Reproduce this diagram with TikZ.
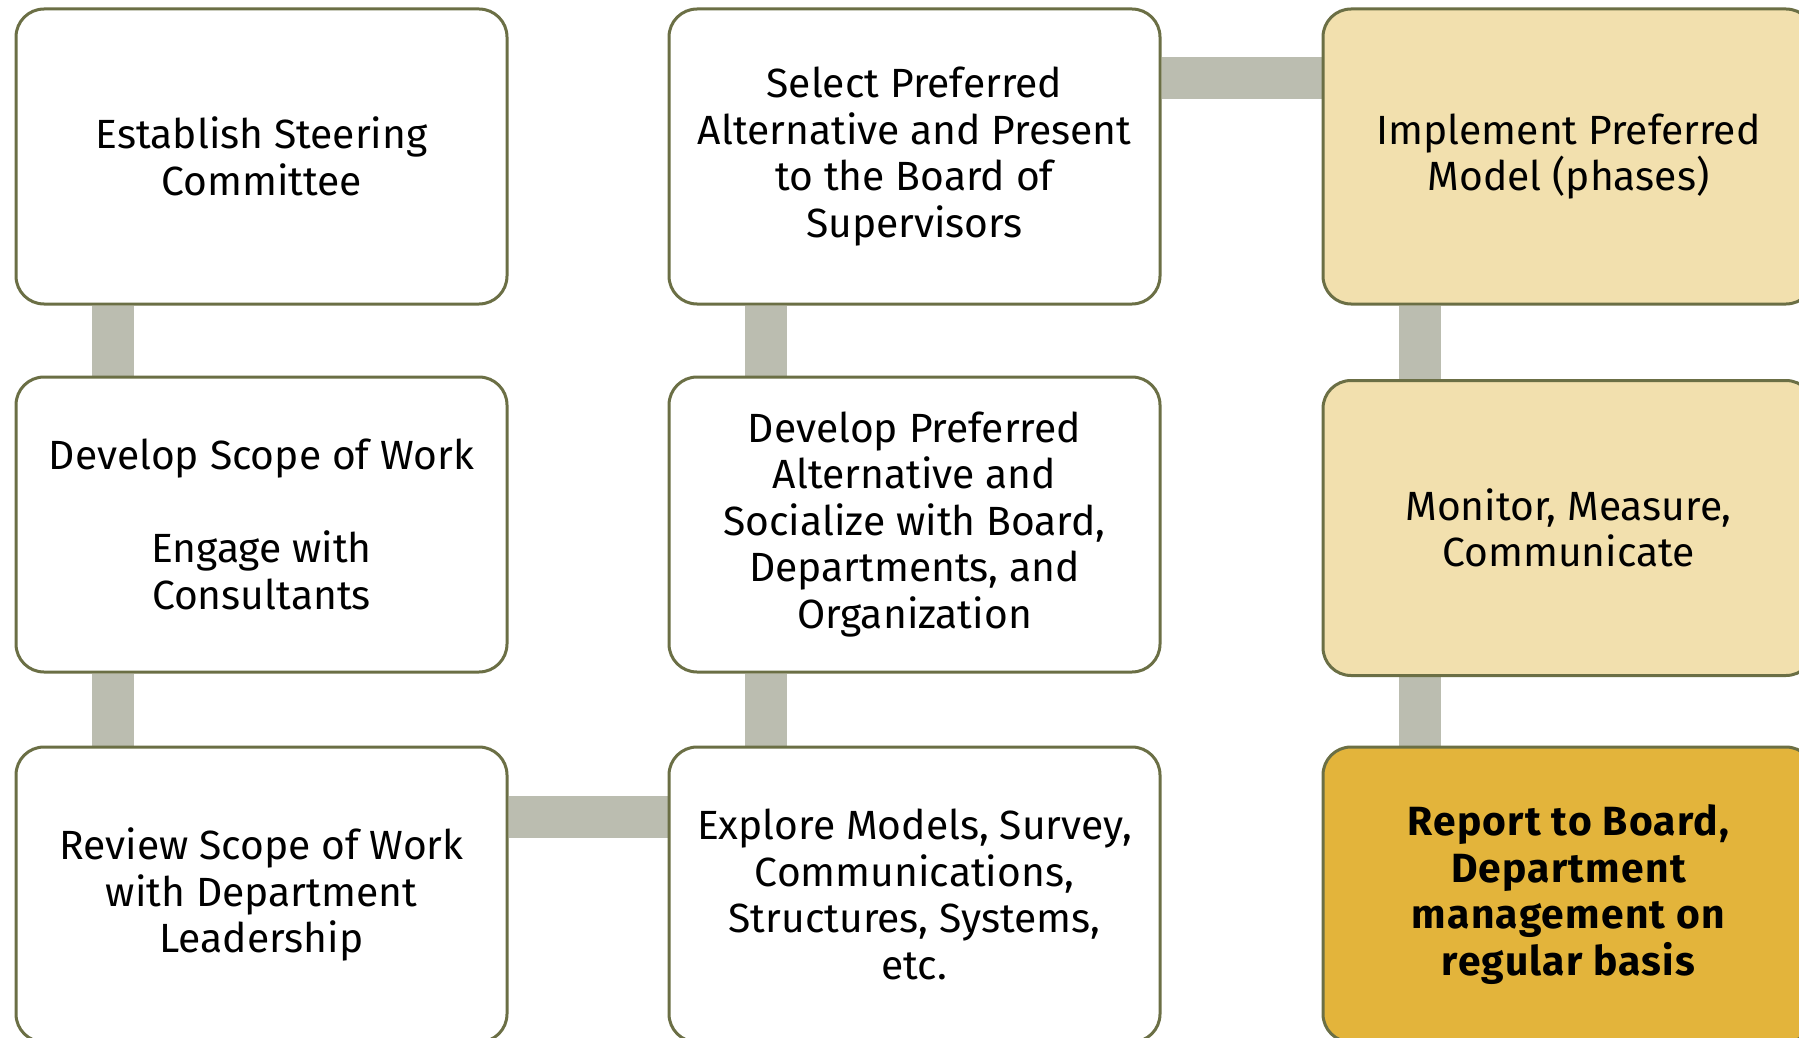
\documentclass[tikz,border=0pt]{standalone}
\usepackage{fontspec}
\setmainfont{Fira Sans}
\usetikzlibrary{backgrounds}
\definecolor{boxline}{HTML}{6B6F45}
\definecolor{linkgray}{HTML}{BBBDB0}
\definecolor{lightgold}{HTML}{F2E0AE}
\definecolor{darkgold}{HTML}{E3B43B}
\tikzset{
  box/.style={draw=boxline, line width=1.5pt, rounded corners=14pt, fill=white,
    minimum width=245.5pt, minimum height=147.5pt, align=center,
    font=\fontsize{20.4}{23.25}\selectfont},
  lightbox/.style={box, fill=lightgold},
  darkbox/.style={box, fill=darkgold,
    font=\fontsize{20.4}{23.25}\selectfont\bfseries\addfontfeature{LetterSpace=3}},
  link/.style={draw=linkgray, line width=21pt}
}
\begin{document}
\begin{tikzpicture}[x=0.5pt, y=-0.5pt]
\clip (0,0) rectangle (1799,1038);
% first column
\node [box] (steering) at (261.5,156.5) {Establish Steering\\Committee};
\node [box] (scope) at (261.5,524.5) {Develop Scope of Work\\\mbox{}\\Engage with\\Consultants};
\node [box] (review) at (261.5,894.5) {Review Scope of Work\\with Department\\Leadership};
% second column
\node [box] (explore) at (914.5,894.5) {Explore Models, Survey,\\Communications,\\Structures, Systems,\\etc.};
\node [box] (develop) at (914.5,524.5) {Develop Preferred\\Alternative and\\Socialize with Board,\\Departments, and\\Organization};
\node [box] (select) at (914.5,156.5) {Select Preferred\\Alternative and Present\\to the Board of\\Supervisors};
% third column
\node [lightbox] (implement) at (1568.5,156.5) {Implement Preferred\\Model (phases)};
\node [lightbox] (monitor) at (1568.5,528) {Monitor, Measure,\\Communicate};
\node [darkbox] (report) at (1568.5,894.5) {Report to Board,\\Department\\management on\\regular basis};
\begin{scope}[on background layer]
  \draw [link] ([xshift=49pt]steering.south west) -- ([xshift=49pt]scope.north west);
  \draw [link] ([xshift=49pt]scope.south west) -- ([xshift=49pt]review.north west);
  \draw [link] ([yshift=-35.5pt]review.north east) -- ([yshift=-35.5pt]explore.north west);
  \draw [link] ([xshift=49pt]explore.north west) -- ([xshift=49pt]develop.south west);
  \draw [link] ([xshift=49pt]develop.north west) -- ([xshift=49pt]select.south west);
  \draw [link] ([yshift=-35.5pt]select.north east) -- ([yshift=-35.5pt]implement.north west);
  \draw [link] ([xshift=49pt]implement.south west) -- ([xshift=49pt]monitor.north west);
  \draw [link] ([xshift=49pt]monitor.south west) -- ([xshift=49pt]report.north west);
\end{scope}
\end{tikzpicture}
\end{document}
